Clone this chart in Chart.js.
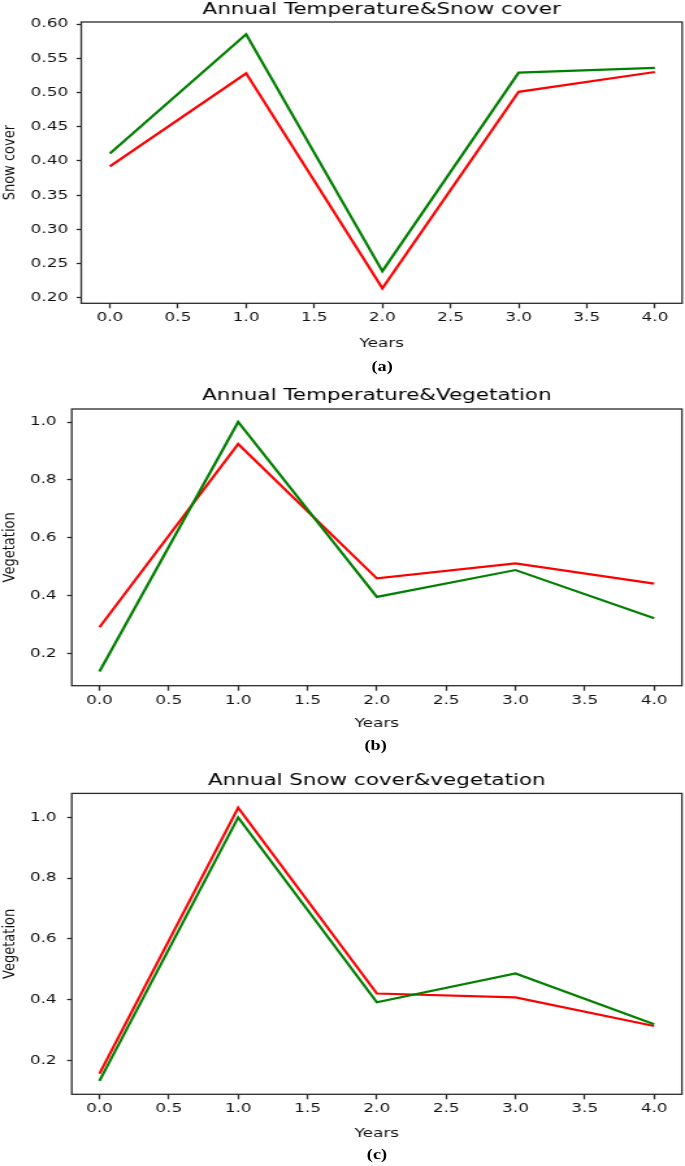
<!DOCTYPE html>
<html>
<head>
<meta charset="utf-8">
<title>Annual temperature, snow cover and vegetation</title>
<script src="https://cdn.jsdelivr.net/npm/chart.js@4.4.0/dist/chart.umd.min.js"></script>
<style>
    html, body { margin: 0; padding: 0; background: #fff; overflow: hidden; }
    /* the source figure is stretched sideways, so the whole sheet is too */
    #page { position: absolute; left: 0; top: 0; width: 527px; height: 1166px;
            transform: scaleX(1.2998); transform-origin: 0 0; }
    #page canvas { position: absolute; left: 0; }
    .cap { position: absolute; width: 100px; text-align: center; color: #000;
           font: bold 14px "Liberation Serif", serif; line-height: 16px; }
</style>
</head>
<body>
<div id="page">
    <canvas id="chartA" width="527" height="351" style="top:0px"></canvas>
    <div class="cap" style="left:244px; top:359px">(a)</div>
    <canvas id="chartB" width="527" height="346" style="top:385px"></canvas>
    <div class="cap" style="left:239px; top:738px">(b)</div>
    <canvas id="chartC" width="527" height="373" style="top:768px"></canvas>
    <div class="cap" style="left:240px; top:1147px">(c)</div>
</div>
<script type="text/javascript">
    const years = [0, 1, 2, 3, 4];
    const xTicks = [0, 0.5, 1, 1.5, 2, 2.5, 3, 3.5, 4];

    // (a) Annual Temperature & Snow cover
    const greenA = [0.411, 0.585, 0.239, 0.529, 0.536];
    const redA = [0.392, 0.528, 0.214, 0.501, 0.530];
    const yTicksA = [0.20, 0.25, 0.30, 0.35, 0.40, 0.45, 0.50, 0.55, 0.60];

    // (b) Annual Temperature & Vegetation
    const greenB = [0.137, 1.000, 0.395, 0.488, 0.321];
    const redB = [0.290, 0.924, 0.459, 0.511, 0.441];

    // (c) Annual Snow cover & vegetation
    const greenC = [0.132, 1.000, 0.391, 0.486, 0.319];
    const redC = [0.156, 1.032, 0.420, 0.407, 0.313];

    const yTicksVeg = [0.2, 0.4, 0.6, 0.8, 1.0];

    const FONT = '"DejaVu Sans", sans-serif';
    const INK = '#111';
    const AXIS = '#2a2a2a';

    // frame round the plot area and the title centred over it (matplotlib style)
    const panel = {
        id: 'panel',
        afterDraw(chart, args, opts) {
            const a = chart.chartArea;
            const ctx = chart.ctx;
            ctx.save();
            ctx.strokeStyle = AXIS;
            ctx.lineWidth = 1.3;
            ctx.strokeRect(a.left, a.top, a.right - a.left, a.bottom - a.top);
            ctx.font = '16.5px ' + FONT;
            ctx.fillStyle = '#000';
            ctx.textAlign = 'center';
            ctx.textBaseline = 'middle';
            ctx.fillText(opts.text, (a.left + a.right) / 2, opts.y);
            ctx.restore();
        }
    };

    function pts(vals) {
        return years.map((x, i) => ({ x: x, y: vals[i] }));
    }

    function makeChart(id, c) {
        return new Chart(document.getElementById(id), {
            type: 'line',
            data: {
                datasets: [
                    { data: pts(c.green), borderColor: '#008000', borderWidth: 2.2 },
                    { data: pts(c.red), borderColor: '#ff0000', borderWidth: 2.2 }
                ]
            },
            options: {
                responsive: false,
                animation: false,
                devicePixelRatio: 1,
                elements: { point: { radius: 0 }, line: { tension: 0 } },
                layout: { padding: { top: c.top, right: c.right, bottom: 0, left: 0 } },
                plugins: {
                    legend: { display: false },
                    tooltip: { enabled: false },
                    panel: { text: c.title, y: c.titleY }
                },
                scales: {
                    x: {
                        type: 'linear',
                        min: c.xMin,
                        max: 4.2,
                        afterBuildTicks: s => { s.ticks = xTicks.map(v => ({ value: v })); },
                        afterFit: s => { s.height = c.xHeight; },
                        ticks: {
                            font: { family: FONT, size: 13 }, color: INK, padding: 2,
                            maxRotation: 0, autoSkip: false,
                            callback: v => v.toFixed(1)
                        },
                        grid: { drawOnChartArea: false, tickLength: 5, tickColor: AXIS, tickWidth: 1.3 },
                        border: { display: false },
                        title: { display: true, text: 'Years', font: { family: FONT, size: 13 }, color: INK, padding: 0 }
                    },
                    y: {
                        min: c.yMin,
                        max: c.yMax,
                        afterBuildTicks: s => { s.ticks = c.yTicks.map(v => ({ value: v })); },
                        afterFit: s => { s.width = c.yWidth; },
                        ticks: {
                            font: { family: FONT, size: 13 }, color: INK, padding: c.yPad,
                            autoSkip: false,
                            callback: v => v.toFixed(c.dec)
                        },
                        grid: { drawOnChartArea: false, tickLength: 3.6, tickColor: AXIS, tickWidth: 1.3 },
                        border: { display: false },
                        title: { display: true, text: c.yLabel, font: { family: FONT, size: 13 }, color: INK, padding: 0 }
                    }
                }
            },
            plugins: [panel]
        });
    }

    makeChart('chartA', {
        title: 'Annual Temperature&Snow cover', titleY: 9.5, yLabel: 'Snow cover',
        green: greenA, red: redA, yTicks: yTicksA, dec: 2,
        yMin: 0.192, yMax: 0.603, xMin: -0.21,
        top: 22, right: 2.2, xHeight: 47.7, yWidth: 62.5, yPad: 6.4
    });

    makeChart('chartB', {
        title: 'Annual Temperature&Vegetation', titleY: 11, yLabel: 'Vegetation',
        green: greenB, red: redB, yTicks: yTicksVeg, dec: 1,
        yMin: 0.088, yMax: 1.045, xMin: -0.2,
        top: 24, right: 2.4, xHeight: 45.3, yWidth: 55.2, yPad: 8
    });

    makeChart('chartC', {
        title: 'Annual Snow cover&vegetation', titleY: 13, yLabel: 'Vegetation',
        green: greenC, red: redC, yTicks: yTicksVeg, dec: 1,
        yMin: 0.088, yMax: 1.079, xMin: -0.2,
        top: 25.4, right: 2.4, xHeight: 46.7, yWidth: 55.2, yPad: 8
    });
</script>
</body>
</html>
